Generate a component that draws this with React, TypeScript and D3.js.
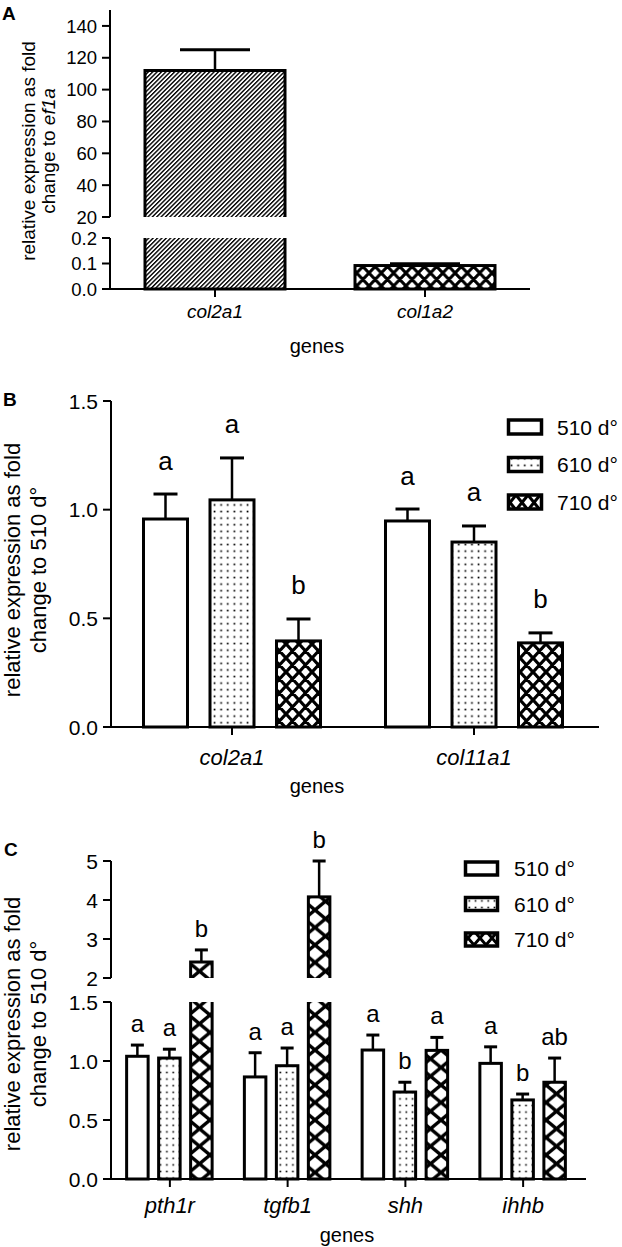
import React from "react";
import * as d3 from "d3";

const FONT = "'Liberation Sans', Arial, Helvetica, sans-serif";

// ---------- Panel A ----------
const genesA = ["col2a1", "col1a2"];
const meanA = [112, 0.092];
const semA = [13, 0.007];
const ticksAUpper = [20, 40, 60, 80, 100, 120, 140];
const ticksALower = [0, 0.1, 0.2];

// ---------- Panel B ----------
const stages = ["510 d°", "610 d°", "710 d°"];
const genesB = ["col2a1", "col11a1"];
const meanB510 = [0.957, 0.948];
const meanB610 = [1.045, 0.851];
const meanB710 = [0.396, 0.387];
const semB510 = [0.115, 0.055];
const semB610 = [0.193, 0.074];
const semB710 = [0.101, 0.046];
const letterB510 = ["a", "a"];
const letterB610 = ["a", "a"];
const letterB710 = ["b", "b"];
const ticksB = [0, 0.5, 1.0, 1.5];

// ---------- Panel C ----------
const genesC = ["pth1r", "tgfb1", "shh", "ihhb"];
const meanC510 = [1.04, 0.865, 1.093, 0.98];
const meanC610 = [1.025, 0.96, 0.737, 0.67];
const meanC710 = [2.41, 4.08, 1.09, 0.82];
const semC510 = [0.095, 0.205, 0.127, 0.14];
const semC610 = [0.075, 0.15, 0.083, 0.05];
const semC710 = [0.31, 0.92, 0.11, 0.205];
const letterC510 = ["a", "a", "a", "a"];
const letterC610 = ["a", "a", "b", "b"];
const letterC710 = ["b", "b", "a", "ab"];
const ticksCUpper = [2, 3, 4, 5];
const ticksCLower = [0, 0.5, 1.0, 1.5];

const crossPath = (w: number, h: number) =>
  `M${-w},${-h}L${2 * w},${2 * h}M0,${-h}L${2 * w},${h}M${-w},0L${w},${2 * h}` +
  `M${-w},${2 * h}L${2 * w},${-h}M${-w},${h}L${w},${-h}M0,${2 * h}L${2 * w},0`;

function CrossPattern({ id, w, h, sw }: { id: string; w: number; h: number; sw: number }) {
  return (
    <pattern id={id} width={w} height={h} patternUnits="userSpaceOnUse">
      <rect width={w} height={h} fill="#fff" />
      <path d={crossPath(w, h)} stroke="#000" strokeWidth={sw} fill="none" />
    </pattern>
  );
}

type Seg = { scale: d3.ScaleLinear<number, number>; min: number; max: number; top: number; bottom: number; clip?: string };

function Bar(props: {
  cx: number; w: number; v: number; sem: number; lo: Seg; up?: Seg; fill: string; sw: number; capW: number;
}) {
  const { cx, w, v, sem, lo, up, fill, sw, capW } = props;
  const x = cx - w / 2;
  const e = v + sem;
  const parts: any[] = [];
  let yTop: number, yErr: number;
  if (up && v > lo.max) {
    parts.push(
      <rect key="lo" x={x} y={lo.top - 8} width={w} height={lo.bottom - lo.top + 8} fill={fill} stroke="#000" strokeWidth={sw} clipPath={`url(#${lo.clip})`} />
    );
    yTop = up.scale(v);
    yErr = up.scale(e);
    parts.push(
      <rect key="up" x={x} y={yTop} width={w} height={up.bottom + 8 - yTop} fill={fill} stroke="#000" strokeWidth={sw} clipPath={`url(#${up.clip})`} />
    );
  } else {
    yTop = lo.scale(v);
    yErr = lo.scale(e);
    parts.push(
      <rect key="lo" x={x} y={yTop} width={w} height={lo.bottom - yTop} fill={fill} stroke="#000" strokeWidth={sw} />
    );
  }
  parts.push(<line key="eb" x1={cx} x2={cx} y1={yTop} y2={yErr} stroke="#000" strokeWidth={2.5} />);
  parts.push(<line key="cap" x1={cx - capW / 2} x2={cx + capW / 2} y1={yErr} y2={yErr} stroke="#000" strokeWidth={3} />);
  return <g>{parts}</g>;
}

function YTicks({ ticks, scale, x, fmt, fs }: { ticks: number[]; scale: any; x: number; fmt: (n: number) => string; fs: number }) {
  return (
    <g>
      {ticks.map((t) => (
        <g key={t}>
          <line x1={x - 8} x2={x} y1={scale(t)} y2={scale(t)} stroke="#000" strokeWidth={2} />
          <text x={x - 13} y={scale(t)} dy="0.36em" textAnchor="end" fontSize={fs} fontFamily={FONT}>
            {fmt(t)}
          </text>
        </g>
      ))}
    </g>
  );
}

export default function App() {
  // Panel A scales
  const xA = d3.scalePoint<string>().domain(genesA).range([110, 530]).padding(0.5);
  const yAUp = d3.scaleLinear().domain([20, 150]).range([217, 10]);
  const yALo = d3.scaleLinear().domain([0, 0.2]).range([289, 238]);
  const segALo: Seg = { scale: yALo, min: 0, max: 0.2, top: 238, bottom: 289, clip: "clipALo" };
  const segAUp: Seg = { scale: yAUp, min: 20, max: 150, top: 10, bottom: 217, clip: "clipAUp" };
  const fillsA = ["url(#hatchA)", "url(#crossA)"];

  // Panel B scales
  const xB = d3.scalePoint<string>().domain(genesB).range([111, 595]).padding(0.5);
  const offB = d3.scalePoint<string>().domain(stages).range([-66.5, 66.5]);
  const yB = d3.scaleLinear().domain([0, 1.5]).range([727, 401]);
  const segB: Seg = { scale: yB, min: 0, max: 1.5, top: 401, bottom: 727 };
  const meansB = [meanB510, meanB610, meanB710];
  const semsB = [semB510, semB610, semB710];
  const lettersB = [letterB510, letterB610, letterB710];
  const fillsB = ["#fff", "url(#dotsB)", "url(#crossB)"];

  // Panel C scales
  const xC = d3.scalePoint<string>().domain(genesC).range([111, 582]).padding(0.5);
  const offC = d3.scalePoint<string>().domain(stages).range([-32.5, 31.5]);
  const yCUp = d3.scaleLinear().domain([2, 5]).range([978, 861]);
  const yCLo = d3.scaleLinear().domain([0, 1.5]).range([1179, 1002]);
  const segCLo: Seg = { scale: yCLo, min: 0, max: 1.5, top: 1002, bottom: 1179, clip: "clipCLo" };
  const segCUp: Seg = { scale: yCUp, min: 2, max: 5, top: 861, bottom: 978, clip: "clipCUp" };
  const meansC = [meanC510, meanC610, meanC710];
  const semsC = [semC510, semC610, semC710];
  const lettersC = [letterC510, letterC610, letterC710];
  const fillsC = ["#fff", "url(#dotsC)", "url(#crossC)"];

  const f0 = d3.format("d");
  const f1 = d3.format(".1f");

  const legendB = stages.map((s, i) => ({ s, fill: fillsB[i], cy: 427 + i * 37.5 }));
  const legendC = stages.map((s, i) => ({ s, fill: fillsC[i], cy: 868.5 + i * 35.5 }));

  return (
    <svg width={622} height={1247} style={{ position: "absolute", left: 0, top: 0, display: "block", background: "#fff" }}>
      <defs>
        <pattern id="hatchA" width={3.1} height={10} patternUnits="userSpaceOnUse" patternTransform="rotate(45)">
          <rect width={3.1} height={10} fill="#fff" />
          <rect x={0} y={0} width={1.4} height={10} fill="#000" />
        </pattern>
        <CrossPattern id="crossA" w={12.3} h={13} sw={3} />
        <CrossPattern id="crossB" w={13} h={14} sw={3.2} />
        <CrossPattern id="crossC" w={21} h={17.5} sw={3.4} />
        <CrossPattern id="crossLegB" w={12} h={15} sw={3} />
        <CrossPattern id="crossLegC" w={12} h={14} sw={3} />
        <pattern id="dotsB" width={6.6} height={6.6} patternUnits="userSpaceOnUse">
          <rect width={6.6} height={6.6} fill="#fff" />
          <rect x={2.5} y={2.5} width={1.7} height={1.7} fill="#000" />
        </pattern>
        <pattern id="dotsC" width={6.3} height={6.6} patternUnits="userSpaceOnUse">
          <rect width={6.3} height={6.6} fill="#fff" />
          <rect x={2.3} y={2.5} width={1.6} height={1.6} fill="#000" />
        </pattern>
        <clipPath id="clipALo"><rect x={0} y={238} width={622} height={60} /></clipPath>
        <clipPath id="clipAUp"><rect x={0} y={0} width={622} height={217} /></clipPath>
        <clipPath id="clipCLo"><rect x={0} y={1002} width={622} height={190} /></clipPath>
        <clipPath id="clipCUp"><rect x={0} y={800} width={622} height={178} /></clipPath>
      </defs>

      {/* ================= Panel A ================= */}
      <text x={2} y={20} fontSize={19} fontWeight="bold" fontFamily={FONT}>A</text>
      <text transform="translate(35,151) rotate(-90)" textAnchor="middle" fontSize={19} fontFamily={FONT}>
        relative expression as fold
      </text>
      <text transform="translate(55,151) rotate(-90)" textAnchor="middle" fontSize={19} fontFamily={FONT}>
        change to <tspan fontStyle="italic">ef1a</tspan>
      </text>
      {genesA.map((g, i) => (
        <Bar key={g} cx={xA(g)!} w={140} v={meanA[i]} sem={semA[i]} lo={segALo} up={segAUp} fill={fillsA[i]} sw={3} capW={70} />
      ))}
      <line x1={110} x2={110} y1={10} y2={217} stroke="#000" strokeWidth={2} />
      <line x1={110} x2={110} y1={238} y2={290} stroke="#000" strokeWidth={2} />
      <YTicks ticks={ticksAUpper} scale={yAUp} x={110} fmt={f0} fs={18.5} />
      <YTicks ticks={ticksALower} scale={yALo} x={110} fmt={f1} fs={18.5} />
      <line x1={109} x2={530} y1={289} y2={289} stroke="#000" strokeWidth={2} />
      {genesA.map((g) => (
        <g key={g}>
          <line x1={xA(g)!} x2={xA(g)!} y1={289} y2={297} stroke="#000" strokeWidth={2} />
          <text x={xA(g)!} y={318} textAnchor="middle" fontSize={19} fontStyle="italic" fontFamily={FONT}>{g}</text>
        </g>
      ))}
      <text x={317} y={353} textAnchor="middle" fontSize={20} fontFamily={FONT}>genes</text>

      {/* ================= Panel B ================= */}
      <text x={3} y={406} fontSize={19} fontWeight="bold" fontFamily={FONT}>B</text>
      <text transform="translate(20,570) rotate(-90)" textAnchor="middle" fontSize={22} fontFamily={FONT}>
        relative expression as fold
      </text>
      <text transform="translate(46,570) rotate(-90)" textAnchor="middle" fontSize={22} fontFamily={FONT}>
        change to 510 d°
      </text>
      {genesB.map((g, gi) =>
        stages.map((s, si) => {
          const cx = xB(g)! + offB(s)!;
          const v = meansB[si][gi];
          const e = v + semsB[si][gi];
          return (
            <g key={g + s}>
              <Bar cx={cx} w={44} v={v} sem={semsB[si][gi]} lo={segB} fill={fillsB[si]} sw={3} capW={24} />
              <text x={cx} y={yB(e) - 24.5} textAnchor="middle" fontSize={26} fontFamily={FONT}>{lettersB[si][gi]}</text>
            </g>
          );
        })
      )}
      <line x1={111} x2={111} y1={401} y2={728} stroke="#000" strokeWidth={2} />
      <YTicks ticks={ticksB} scale={yB} x={111} fmt={f1} fs={21} />
      <line x1={110} x2={599} y1={727} y2={727} stroke="#000" strokeWidth={2} />
      {genesB.map((g) => (
        <g key={g}>
          <line x1={xB(g)!} x2={xB(g)!} y1={727} y2={735} stroke="#000" strokeWidth={2} />
          <text x={xB(g)!} y={765} textAnchor="middle" fontSize={22} fontStyle="italic" fontFamily={FONT}>{g}</text>
        </g>
      ))}
      <text x={317} y={793} textAnchor="middle" fontSize={20} fontFamily={FONT}>genes</text>
      {legendB.map((l) => (
        <g key={l.s}>
          <rect x={508.5} y={l.cy - 7} width={33} height={14} fill={l.s === stages[2] ? "url(#crossLegB)" : l.fill} stroke="#000" strokeWidth={3.5} />
          <text x={557} y={l.cy} dy="0.36em" fontSize={21} fontFamily={FONT}>{l.s}</text>
        </g>
      ))}

      {/* ================= Panel C ================= */}
      <text x={4} y={856} fontSize={19} fontWeight="bold" fontFamily={FONT}>C</text>
      <text transform="translate(20,1024) rotate(-90)" textAnchor="middle" fontSize={22} fontFamily={FONT}>
        relative expression as fold
      </text>
      <text transform="translate(46,1024) rotate(-90)" textAnchor="middle" fontSize={22} fontFamily={FONT}>
        change to 510 d°
      </text>
      {genesC.map((g, gi) =>
        stages.map((s, si) => {
          const cx = xC(g)! + offC(s)!;
          const v = meansC[si][gi];
          const e = v + semsC[si][gi];
          const yE = v > 1.5 ? yCUp(e) : yCLo(e);
          return (
            <g key={g + s}>
              <Bar cx={cx} w={21.5} v={v} sem={semsC[si][gi]} lo={segCLo} up={segCUp} fill={fillsC[si]} sw={3} capW={13} />
              <text x={cx} y={yE - 13} textAnchor="middle" fontSize={24} fontFamily={FONT}>{lettersC[si][gi]}</text>
            </g>
          );
        })
      )}
      <line x1={111} x2={111} y1={861} y2={978} stroke="#000" strokeWidth={2} />
      <line x1={111} x2={111} y1={1002} y2={1180} stroke="#000" strokeWidth={2} />
      <YTicks ticks={ticksCUpper} scale={yCUp} x={111} fmt={f0} fs={21} />
      <YTicks ticks={ticksCLower} scale={yCLo} x={111} fmt={f1} fs={21} />
      <line x1={110} x2={586} y1={1179} y2={1179} stroke="#000" strokeWidth={2} />
      {genesC.map((g) => (
        <g key={g}>
          <line x1={xC(g)!} x2={xC(g)!} y1={1179} y2={1187} stroke="#000" strokeWidth={2} />
          <text x={xC(g)!} y={1213} textAnchor="middle" fontSize={22} fontStyle="italic" fontFamily={FONT}>{g}</text>
        </g>
      ))}
      <text x={347} y={1242} textAnchor="middle" fontSize={20} fontFamily={FONT}>genes</text>
      {legendC.map((l) => (
        <g key={l.s}>
          <rect x={465.5} y={l.cy - 6.5} width={32} height={13} fill={l.s === stages[2] ? "url(#crossLegC)" : l.fill} stroke="#000" strokeWidth={3.5} />
          <text x={514} y={l.cy} dy="0.36em" fontSize={21} fontFamily={FONT}>{l.s}</text>
        </g>
      ))}
    </svg>
  );
}
